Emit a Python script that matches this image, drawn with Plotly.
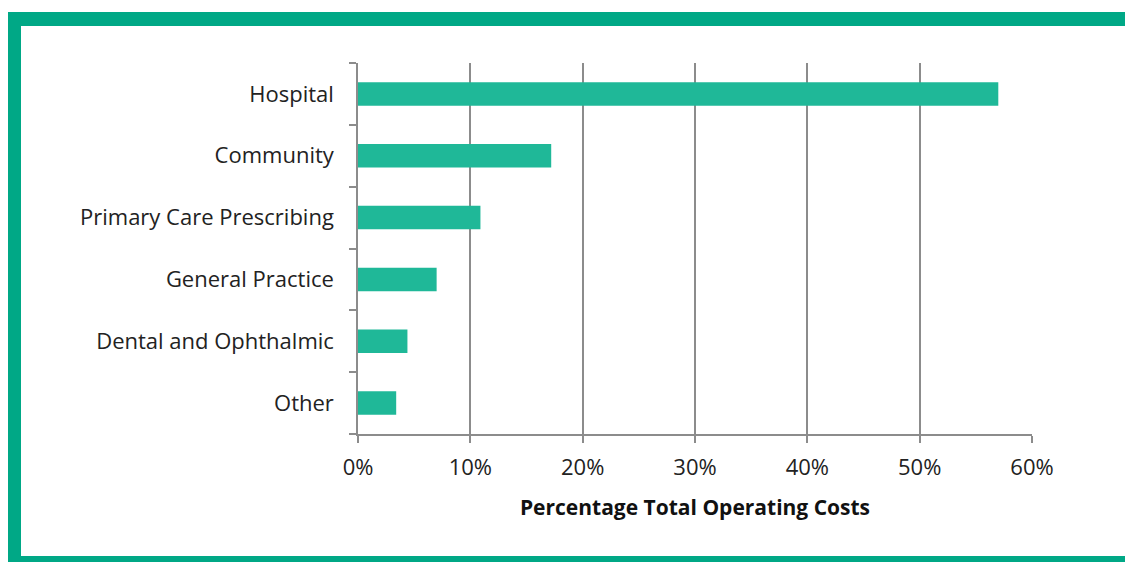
import plotly.graph_objects as go

categories = ["Hospital", "Community", "Primary Care Prescribing", "General Practice",
              "Dental and Ophthalmic", "Other"]
values = [57.0, 17.2, 10.9, 7.0, 4.4, 3.4]
x_ticks = [0, 10, 20, 30, 40, 50, 60]
x_tick_labels = ["0%", "10%", "20%", "30%", "40%", "50%", "60%"]

# page body has an 8px margin; figure coordinates are screen - 8
OFF = 8
W, H = 1133 - OFF, 562 - OFF
L, R, T, B = 358 - OFF, 1032 - OFF, 63 - OFF, 434 - OFF

BAR = "#1fb898"
FRAME = "#00a886"
GRID = "#8c8c8c"
FONT = "Open Sans, sans-serif"

fig = go.Figure(go.Bar(
    x=values, y=categories, orientation="h",
    marker=dict(color=BAR, line=dict(width=0)),
    width=0.38,
))

def px_x(p):
    return (p - OFF - L) / (R - L)

def px_y(p):
    return (B - (p - OFF)) / (B - T)

shapes = [
    dict(type="rect", xref="paper", yref="paper", layer="below",
         x0=px_x(8), x1=px_x(1150), y0=px_y(12), y1=px_y(580),
         fillcolor=FRAME, line=dict(width=0)),
    dict(type="rect", xref="paper", yref="paper", layer="below",
         x0=px_x(21), x1=px_x(1133), y0=px_y(26), y1=px_y(556),
         fillcolor="white", line=dict(width=0)),
]

fig.update_layout(
    width=W, height=H,
    margin=dict(l=L, r=W - R, t=T, b=H - B, pad=0),
    paper_bgcolor="white",
    plot_bgcolor="rgba(0,0,0,0)",
    showlegend=False,
    shapes=shapes,
    font=dict(family=FONT, size=22, color="#222222"),
    xaxis=dict(
        range=[0, 60], tickvals=x_ticks, ticktext=x_tick_labels,
        showgrid=True, gridcolor=GRID, gridwidth=1.5,
        showline=True, linecolor=GRID, linewidth=1.5,
        ticks="outside", ticklen=7, tickcolor=GRID, tickwidth=1.5,
        ticklabelstandoff=6,
        zeroline=False,
        title=dict(text="<b>Percentage Total Operating Costs</b>",
                   font=dict(size=21, color="#111111"), standoff=20),
    ),
    yaxis=dict(
        categoryorder="array", categoryarray=categories[::-1],
        autorange=False, range=[-0.5, 5.5],
        showgrid=False,
        showline=True, linecolor=GRID, linewidth=1.5,
        ticks="outside", tickson="boundaries", ticklen=7, tickcolor=GRID, tickwidth=1.5,
        ticklabelstandoff=18,
        zeroline=False,
    ),
)

fig.write_html("out.html")
